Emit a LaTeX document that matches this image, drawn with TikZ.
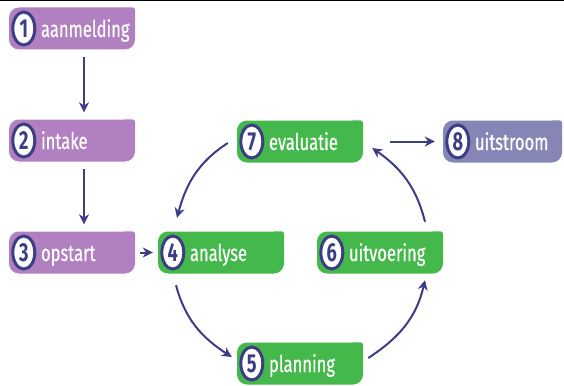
\documentclass[tikz,border=0pt]{standalone}
\usepackage{fontspec}
\setmainfont{Fira Sans}[FakeStretch=0.7]
\newfontfamily\tabfont{Fira Sans}[FakeStretch=0.72, FakeBold=0.5]
\usetikzlibrary{arrows.meta,shapes.geometric}
\definecolor{lila}{HTML}{B080C0}
\definecolor{groen}{HTML}{45B84B}
\definecolor{paars}{HTML}{8585B6}
\definecolor{navy}{HTML}{3D3D85}
\tikzset{
	tab/.style={fill=#1, rounded corners=10pt, minimum height=42pt, text width=118pt,
		inner xsep=4pt, inner ysep=0pt, align=left, text=white,
		font=\tabfont\fontsize{23}{23}\selectfont, text height=20pt, text depth=3pt,
		execute at begin node={\hyphenpenalty=10000\leavevmode\hspace*{28pt}}},
	badge/.style={ellipse, draw=navy, line width=3pt, fill=white, text=navy,
		minimum width=22pt, minimum height=33pt, inner sep=0pt,
		font=\fontsize{26}{26}\selectfont\bfseries},
	arr/.style={draw=navy, line width=2pt, -{Stealth[length=10pt,width=10pt]}},
}
\begin{document}
\begin{tikzpicture}[x=1pt, y=1pt, node distance=112pt]
		\useasboundingbox (0,0) rectangle (564,-385);
		\draw[line width=1.5pt] (0,-0.75) -- (564,-0.75);
		% linker kolom
		\node[tab=lila] (n1) at (72,-28.5) {aanmelding};
		\node[tab=lila] (n2) [below of=n1] {intake};
		\node[tab=lila] (n3) [below of=n2] {opstart};
		% cyclus
		\node[tab=groen] (n4) [right of=n3, node distance=149pt] {analyse};
		\node[tab=groen] (n7) at (300,-141.5) {evaluatie};
		\node[tab=groen] (n5) at (300,-363.5) {planning};
		\node[tab=groen] (n6) at (380,-252.5) {uitvoering};
		\node[tab=paars, text width=111pt] (n8) at (502.5,-141.5) {uitstroom};
		\foreach \n/\c in {n1/lila, n2/lila, n3/lila, n4/groen, n5/groen, n6/groen, n7/groen, n8/paars}
			\fill[\c, rounded corners=3pt] ([xshift=-12pt]\n.north east) rectangle ([yshift=-12pt]\n.north east);
		\foreach \i in {1,...,8}
			\node[badge] (b\i) at ([xshift=15pt]n\i.west) {\i};
		% pijlen
		\draw[arr, shorten <=7pt, shorten >=7pt] ([xshift=12pt]n1.south) -- ([xshift=12pt]n2.north);
		\draw[arr, shorten <=7pt, shorten >=7pt] ([xshift=12pt]n2.south) -- ([xshift=12pt]n3.north);
		\draw[arr, shorten <=5pt, shorten >=5pt] (n3) -- (n4);
		\draw[arr, shorten <=27pt, shorten >=8pt] (n7) -- (n8);
		\draw[arr] ([shift={(-9,-1.5)}]n7.west) to[out=213, in=75] ([shift={(-44,13.5)}]n4.north);
		\draw[arr] ([shift={(-45,-11.5)}]n4.south) to[out=285, in=147] ([shift={(-5,6.5)}]n5.west);
		\draw[arr] ([shift={(5,5.5)}]n5.east) to[out=33, in=257] ([shift={(45,-6.5)}]n6.south);
		\draw[arr] ([shift={(45,9.5)}]n6.north) to[out=104, in=325] ([shift={(9,-6.5)}]n7.east);
\end{tikzpicture}
\end{document}
